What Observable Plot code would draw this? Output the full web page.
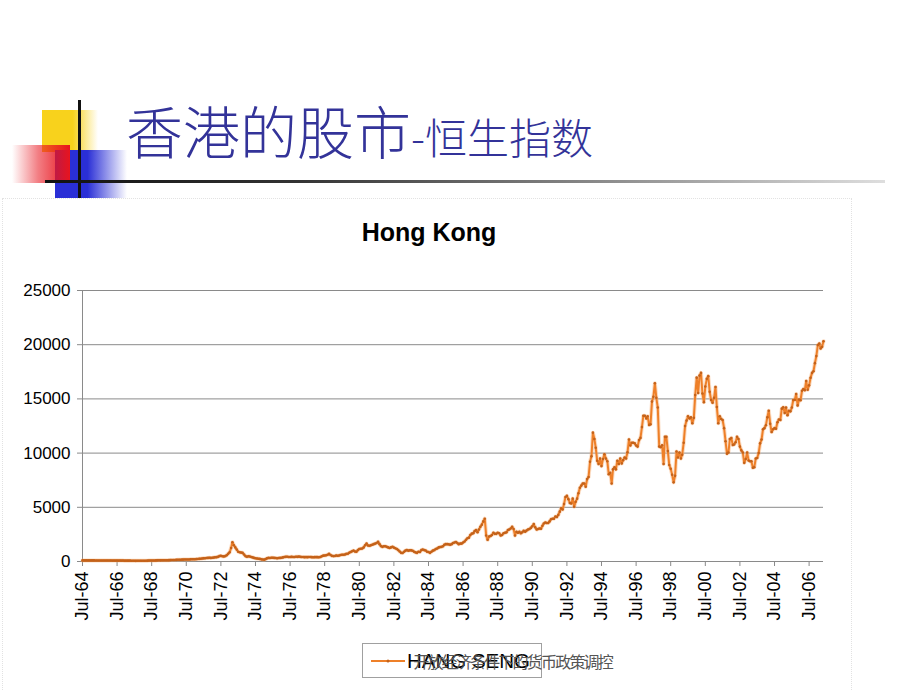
<!DOCTYPE html>
<html><head><meta charset="utf-8">
<script src="https://cdn.jsdelivr.net/npm/d3@7"></script>
<script src="https://cdn.jsdelivr.net/npm/@observablehq/plot@0.6"></script>
<style>
html,body{margin:0;padding:0;background:#fff}
body{width:920px;height:690px;overflow:hidden;position:relative;font-family:Arial,"Liberation Sans",sans-serif}
.abs{position:absolute}
</style></head><body>
<!-- slide decoration -->
<div class="abs" style="left:42px;top:110px;width:56px;height:42px;background:linear-gradient(90deg,#F8D21C 0%,#F8D21C 55%,rgba(248,210,28,0) 100%)"></div>
<div class="abs" style="left:55px;top:150px;width:72px;height:48px;background:linear-gradient(90deg,#2A2FD6 0%,#2A2FD6 45%,rgba(42,47,214,0) 100%)"></div>
<div class="abs" style="left:12px;top:145px;width:58px;height:38px;background:linear-gradient(90deg,rgba(232,20,30,0) 0%,rgba(232,20,30,0.55) 45%,#E8141E 100%)"></div>
<div class="abs" style="left:78px;top:100px;width:3px;height:98px;background:#111"></div>
<div class="abs" style="left:45px;top:180px;width:840px;height:3px;background:linear-gradient(90deg,#111 0%,#333 30%,#888 65%,rgba(200,200,200,0.6) 100%)"></div>
<div class="abs" style="left:126px;top:101px;color:#333399;font-family:'Noto Sans CJK SC';font-weight:300;white-space:nowrap;line-height:1">
  <span style="font-size:57px">香港的股市</span><span style="font-size:42px">-恒生指数</span>
</div>
<!-- chart box -->
<div class="abs" style="left:2px;top:198px;width:848px;height:500px;border:1px dotted #e2e2e2"></div>
<div class="abs" style="left:0;top:218px;width:858px;text-align:center;font-weight:bold;font-size:25px;color:#000">Hong Kong</div>
<div id="chart" class="abs" style="left:0;top:280px"></div>
<div id="legend" class="abs" style="left:362px;top:643px;width:178px;height:33px;border:1px solid #a0a0a0"></div>
<div id="footer" class="abs" style="left:300px;top:649px;width:312px;text-align:right;font-family:'Noto Sans CJK SC';font-size:16px;letter-spacing:-1.8px;color:#555;white-space:nowrap">开放经济条件下的货币政策调控</div>
<script>
// ===== data: Hang Seng index, monthly, starting Jul-1964 =====
const seriesName = "HANG SENG";
const hsi1964to1969 = [
  100,101,102,103,101,100,
  101,102,100,98,95,93,92,90,88,89,88,86,
  86,86,86,85,83,82,83,84,83,82,81,80,
  80,79,78,77,76,72,66,62,64,66,68,68,
  67,70,74,80,85,88,92,95,98,100,104,110,
  107,110,112,114,118,122,125,130,135,140,145,150
];
const hsi1970s = [
  155,160,165,170,175,180,178,185,190,200,205,210,
  211,220,230,245,260,280,290,300,320,330,340,330,
  341,360,390,400,430,500,520,480,470,500,580,720,
  843,1250,1775,1500,1300,1100,900,850,820,800,650,500,
  433,480,460,420,380,330,300,280,260,240,200,180,
  171,220,290,330,320,340,350,330,320,300,320,330,
  350,380,410,430,440,420,420,430,410,420,440,430,
  447,430,420,410,400,410,400,410,420,400,390,400,
  404,400,390,420,480,540,560,580,620,700,600,520,
  496,510,550,530,560,600,620,620,650,700,710,810
];
const hsi1980s = [
  879,950,1000,920,900,1050,1150,1180,1200,1300,1500,1650,
  1473,1450,1500,1550,1600,1650,1700,1810,1600,1420,1350,1400,
  1405,1350,1300,1250,1300,1350,1280,1220,1150,1050,920,800,
  784,900,1000,1050,1000,1030,1030,990,900,840,800,900,
  874,1050,1100,1050,1020,900,870,800,900,1000,1050,1150,
  1200,1300,1330,1350,1400,1550,1600,1600,1580,1550,1600,1700,
  1752,1800,1700,1600,1650,1650,1750,1850,2000,2150,2200,2450,
  2568,2600,2800,2900,2700,2950,3200,3400,3700,3950,2400,2000,
  2303,2350,2450,2650,2550,2550,2650,2600,2400,2450,2600,2650,
  2687,2900,2950,3050,3200,3000,2400,2750,2650,2750,2600,2700
];
const hsi1990s = [
  2837,2750,2850,2950,3000,3100,3250,3450,3150,2950,3000,3050,
  3025,3300,3500,3600,3550,3550,3700,3900,3950,3950,4150,4100,
  4297,4600,4900,4800,5300,5950,6050,5750,5400,5350,5800,5050,
  5512,5800,6300,6800,7000,7200,7200,6900,7600,7800,9200,9700,
  11888,11300,10500,9300,9000,9500,8800,9450,9900,9500,9250,8050,
  8191,7200,8500,8700,8500,9300,9000,9500,9050,9350,9600,9500,
  10073,11250,10700,10950,10950,10900,10700,10600,11200,11400,12400,13450,
  13451,13200,13400,12600,12650,14750,15200,16450,15100,14200,10600,10550,
  10723,9000,11500,11500,10200,8900,8550,8000,7300,7900,10150,9600,
  10048,9500,9850,10950,12500,13000,13400,13200,13300,12750,13250,15350
];
const hsi2000to2007 = [
  16962,15550,17150,17400,15500,14700,16150,16850,17100,15650,14900,14650,
  15096,16100,14250,12750,13400,13150,13050,12300,11100,9950,10050,11300,
  11397,10750,10800,11000,11500,11300,10600,10250,10050,9100,9450,10050,
  9321,9250,9250,8650,8700,9500,9550,10000,10900,11250,12200,12300,
  12576,13300,13900,12700,11950,12200,12300,12250,12850,13100,13050,14100,
  14230,13700,14200,13500,13900,13850,14200,14900,14900,15450,14400,14940,
  14876,15750,15900,15800,16650,15850,16250,16950,17400,17550,18300,18950,
  19965,20100,19650,19800,20318
];
const yTicks = [0, 5000, 10000, 15000, 20000, 25000];
const xTickLabels = ["Jul-64","Jul-66","Jul-68","Jul-70","Jul-72","Jul-74","Jul-76","Jul-78","Jul-80","Jul-82","Jul-84","Jul-86","Jul-88","Jul-90","Jul-92","Jul-94","Jul-96","Jul-98","Jul-00","Jul-02","Jul-04","Jul-06"];

// ===== build table =====
const values = [].concat(hsi1964to1969, hsi1970s, hsi1980s, hsi1990s, hsi2000to2007);
const data = values.map((v, i) => ({date: new Date(Date.UTC(1964, 6 + i, 1)), value: v}));
const xTicks = xTickLabels.map((s, i) => new Date(Date.UTC(1964 + 2 * i, 6, 1)));
const labelOf = new Map(xTicks.map((d, i) => [+d, xTickLabels[i]]));
const xDomain = [data[0].date, data[data.length - 1].date];

const lineColor = "#EE8029";
const markColor = "#C4621A";
const chart = Plot.plot({
  width: 860, height: 350,
  marginLeft: 82, marginRight: 37, marginTop: 10, marginBottom: 69,
  style: {fontFamily: "Arial, 'Liberation Sans', sans-serif", fontSize: "17px", color: "#000", background: "transparent", overflow: "visible"},
  x: {type: "utc", domain: xDomain},
  y: {domain: [0, 25000]},
  marks: [
    Plot.gridY(yTicks, {stroke: "#8a8a8a", strokeOpacity: 1, strokeWidth: 1}),
    Plot.ruleX([xDomain[0]], {stroke: "#8a8a8a"}),
    Plot.ruleY([0], {stroke: "#8a8a8a"}),
    Plot.axisY(yTicks, {tickSize: 5, tickPadding: 7, label: null, tickFormat: d3.format("d"), stroke: "#8a8a8a", fill: "#000"}),
    Plot.axisX(xTicks, {tickSize: 5, tickPadding: 5, tickRotate: -90, label: null, tickFormat: d => labelOf.get(+d), stroke: "#8a8a8a", fill: "#000", fontSize: 18}),
    Plot.line(data, {x: "date", y: "value", stroke: "#F7B27A", strokeWidth: 4, strokeOpacity: 0.45}),
    Plot.line(data, {x: "date", y: "value", stroke: lineColor, strokeWidth: 2}),
    Plot.dot(data, {x: "date", y: "value", r: 1.3, fill: markColor, stroke: null})
  ]
});
document.getElementById("chart").appendChild(chart);

// ===== legend =====
const lg = document.getElementById("legend");
lg.innerHTML = `<svg width="44" height="33" style="position:absolute;left:6px;top:0">
  <line x1="2" x2="36" y1="17" y2="17" stroke="${lineColor}" stroke-width="2"/>
  <circle cx="19" cy="17" r="1.5" fill="${markColor}"/></svg>
  <span style="position:absolute;left:44px;top:5px;font-size:20.5px;color:#000;white-space:nowrap">${seriesName}</span>`;
</script>
</body></html>
